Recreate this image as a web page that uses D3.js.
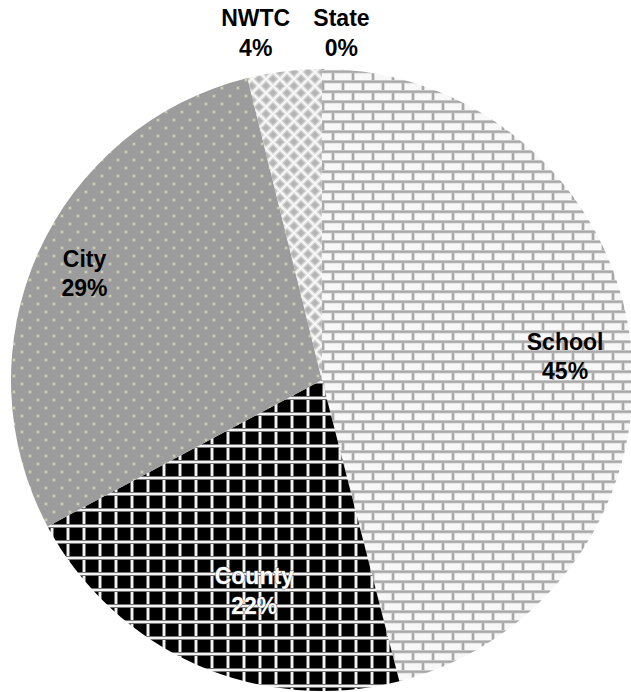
<!DOCTYPE html>
<html>
<head>
<meta charset="utf-8">
<script src="https://cdn.jsdelivr.net/npm/d3@7/dist/d3.min.js"></script>
<style>
  html, body { margin: 0; padding: 0; background: #ffffff; }
  svg { display: block; }
</style>
</head>
<body>
<div id="chart"></div>
<script>
// ---- Data ----
const categories = ["School", "County", "City", "NWTC", "State"];
const values     = [46.0, 21.2, 28.95, 3.8, 0.05];
const pctLabels  = ["45%", "22%", "29%", "4%", "0%"];

// ---- Layout ----
const W = 631, H = 692;
const cx = 322, cy = 380, R = 311;

const svg = d3.select("#chart").append("svg")
  .attr("width", W).attr("height", H);

const defs = svg.append("defs");

// School: horizontal brick
const BW = 20, BH = 10;
const pBrick = defs.append("pattern").attr("id", "p-brick")
  .attr("patternUnits", "userSpaceOnUse").attr("width", BW).attr("height", BH * 2);
pBrick.append("rect").attr("width", BW).attr("height", BH * 2).attr("fill", "#f8f8f8");
[[0,0,BW,3.5,"#d2d2d2"],[0,0.75,BW,2,"#a8a8a8"],
 [0,BH,BW,3.5,"#d2d2d2"],[0,BH+0.75,BW,2,"#a8a8a8"],
 [-0.75,3,3.5,BH-3,"#d2d2d2"],[0,3,2,BH-3,"#a8a8a8"],[BW-0.75,3,1,BH-3,"#d2d2d2"],
 [BW/2-0.75,BH+3,3.5,BH-3,"#d2d2d2"],[BW/2,BH+3,2,BH-3,"#a8a8a8"]].forEach(r =>
  pBrick.append("rect").attr("x", r[0]).attr("y", r[1]).attr("width", r[2]).attr("height", r[3]).attr("fill", r[4]));

// County: large grid (white lines on black)
const pGrid = defs.append("pattern").attr("id", "p-grid")
  .attr("patternUnits", "userSpaceOnUse").attr("width", 16).attr("height", 16);
pGrid.append("rect").attr("width", 16).attr("height", 16).attr("fill", "#000");
[[0,0,4,16,"#4a4a4a"],[0.5,0,3,16,"#999"],[1,0,2,16,"#f2f2f2"],
 [0,0,16,4,"#4a4a4a"],[0,0.5,16,3,"#999"],[0,1,16,2,"#f2f2f2"]].forEach(r =>
  pGrid.append("rect").attr("x", r[0]).attr("y", r[1]).attr("width", r[2]).attr("height", r[3]).attr("fill", r[4]));

// City: gray with light dots
const pDots = defs.append("pattern").attr("id", "p-dots")
  .attr("patternUnits", "userSpaceOnUse").attr("width", 16).attr("height", 16);
pDots.append("rect").attr("width", 16).attr("height", 16).attr("fill", "#9c9c9c");
[[3,3],[11,11]].forEach(d => {
  pDots.append("rect").attr("x", d[0]-1).attr("y", d[1]-1).attr("width", 4).attr("height", 4).attr("fill", "#a8a8a0");
  pDots.append("rect").attr("x", d[0]).attr("y", d[1]).attr("width", 2).attr("height", 2).attr("fill", "#cfcfb6");
});

// NWTC: soft diamonds
const DS = 14;
const pDia = defs.append("pattern").attr("id", "p-dia")
  .attr("patternUnits", "userSpaceOnUse").attr("width", DS).attr("height", DS);
pDia.append("rect").attr("width", DS).attr("height", DS).attr("fill", "#ffffff");
const dia = (x, y, h) => `M${x},${y-h}L${x+h},${y}L${x},${y+h}L${x-h},${y}Z`;
[[DS/2,DS/2],[0,0],[DS,0],[0,DS],[DS,DS]].forEach(c => {
  pDia.append("path").attr("d", dia(c[0], c[1], 6.2)).attr("fill", "#e4e4e4");
  pDia.append("path").attr("d", dia(c[0], c[1], 4.6)).attr("fill", "#c4c4c4");
  pDia.append("path").attr("d", dia(c[0], c[1], 3.0)).attr("fill", "#b4b4b4");
});

const fills = ["url(#p-brick)", "url(#p-grid)", "url(#p-dots)", "url(#p-dia)", "url(#p-dia)"];

const pie = d3.pie().sort(null).value(d => d);
const arcs = pie(values);
const arc = d3.arc().innerRadius(0).outerRadius(R);

const g = svg.append("g").attr("transform", `translate(${cx},${cy})`);
g.selectAll("path.slice").data(arcs).join("path")
  .attr("class", "slice")
  .attr("d", arc)
  .attr("fill", (d, i) => fills[i]);

// ---- Labels ----
// placement: angle offset (deg) from slice mid, radius, extra x/y shift
const placement = [
  { da: 2.3,  r: 244, dx: 0,  dy: -2, color: "#000" },
  { da: -6,   r: 222, dx: 0,  dy: 0,  color: "#fff" },
  { da: 0,    r: 260, dx: 0,  dy: 0,  color: "#000" },
  { da: -3.5, r: 352, dx: -2, dy: 0,  color: "#000" },
  { da: 0,    r: 346, dx: 20, dy: 0,  color: "#000" }
];

arcs.forEach((a, i) => {
  const p = placement[i];
  const ang = (a.startAngle + a.endAngle) / 2 + p.da * Math.PI / 180;
  const x = Math.sin(ang) * p.r + p.dx;
  const y = -Math.cos(ang) * p.r + p.dy;
  const t = g.append("text")
    .attr("x", x).attr("y", y)
    .attr("text-anchor", "middle")
    .attr("font-family", "'Liberation Sans', Arial, sans-serif")
    .attr("font-weight", "bold")
    .attr("font-size", 23)
    .attr("fill", p.color);
  if (p.color === "#fff") {
    t.attr("stroke", "#555").attr("stroke-width", 0.8).attr("paint-order", "stroke");
  }
  t.append("tspan").attr("x", x).attr("dy", "-0.33em").text(categories[i]);
  t.append("tspan").attr("x", x).attr("dy", "1.3em").text(pctLabels[i]);
});
</script>
</body>
</html>
